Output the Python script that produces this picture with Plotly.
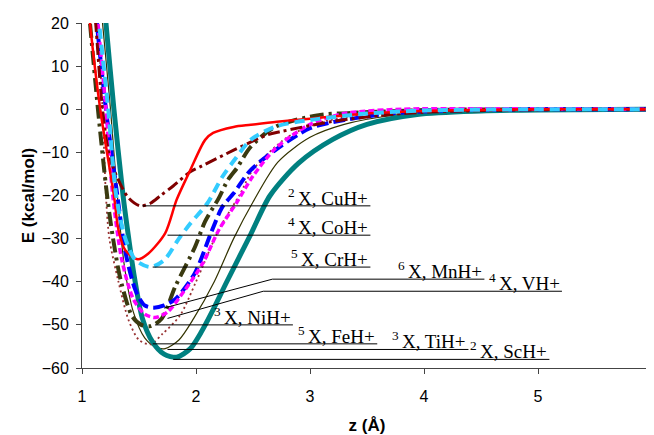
import plotly.graph_objects as go

# ---------------- data ----------------
# 2X ScH+  (teal, thick solid)
sc_z = [1.19, 1.21, 1.28, 1.36, 1.41, 1.46, 1.53, 1.62, 1.72, 1.83, 1.95, 2.05, 2.15, 2.27, 2.48, 2.65, 2.9, 3.2, 3.5, 3.94, 4.5, 5.0, 6.0]
sc_E = [26, 20, 0, -20, -30, -39, -48.5, -54, -56.8, -57.5, -55.5, -51.5, -46.5, -40, -29, -20, -12.5, -7, -3.5, -1.2, -0.4, -0.15, 0]

# 3X TiH+  (thin dark olive solid)
ti_z = [1.16, 1.18, 1.25, 1.31, 1.37, 1.45, 1.55, 1.65, 1.73, 1.85, 1.98, 2.16, 2.33, 2.5, 2.72, 3.0, 3.3, 3.7, 4.2, 5.0, 6.0]
ti_E = [26, 20, 0, -20, -36, -47, -53, -55.2, -55.5, -53.5, -48.5, -40, -30, -21.5, -12.2, -6.5, -3.5, -1.5, -0.5, -0.1, 0]

# 5X FeH+  (thin brown dotted)
fe_z = [1.12, 1.14, 1.18, 1.21, 1.24, 1.32, 1.41, 1.5, 1.6, 1.71, 1.86, 2.0, 2.2, 2.39, 2.5, 2.8, 3.1, 3.5, 4.0, 5.0, 6.0]
fe_E = [26, 20, 0, -20, -30, -40, -49, -53.5, -54.5, -52, -47.8, -40, -28, -19.5, -14, -6.5, -3, -1.2, -0.4, -0.1, 0]

# 3X NiH+  (dark olive long dash-dot)
ni_z = [1.05, 1.07, 1.14, 1.22, 1.27, 1.34, 1.44, 1.52, 1.6, 1.7, 1.82, 1.99, 2.08, 2.2, 2.28, 2.36, 2.48, 2.7, 3.09, 3.33, 4.0, 5.0, 6.0]
ni_E = [26, 20, 0, -20, -29.6, -39.7, -48, -50, -50.3, -48.5, -41, -32, -26, -20.6, -16.4, -13.6, -8.7, -4, -1.3, -0.9, -0.2, 0, 0]

# 6X MnH+  (blue dashed)
mn_z = [1.11, 1.13, 1.21, 1.31, 1.38, 1.47, 1.55, 1.63, 1.72, 1.82, 1.99, 2.13, 2.23, 2.33, 2.48, 2.72, 3.0, 3.3, 3.7, 4.2, 5.0, 6.0]
mn_E = [26, 20, 0, -20, -33, -42, -45.5, -46, -45.5, -44, -38, -28.8, -22.7, -19.5, -14.1, -9, -4.4, -2.5, -1, -0.3, 0, 0]

# 4X VH+  (magenta short dashes)
v_z = [1.12, 1.14, 1.21, 1.27, 1.35, 1.45, 1.55, 1.64, 1.75, 1.9, 2.06, 2.2, 2.36, 2.5, 2.7, 3.0, 3.3, 3.8, 4.5, 6.0]
v_E = [26, 20, 0, -20, -35, -44, -47.5, -48.3, -47, -42, -35.7, -28, -21.5, -15.5, -9, -3.5, -1, 0, 0.1, 0]

# 2X CuH+  (maroon dash-dot)
cu_z = [1.10, 1.12, 1.18, 1.25, 1.4, 1.51, 1.6, 1.69, 1.8, 1.95, 2.04, 2.33, 2.62, 2.74, 3.18, 3.6, 4.0, 5.0, 6.0]
cu_E = [26, 20, 0, -11.7, -20.3, -22.4, -21.8, -20, -17.8, -14.5, -13.3, -9.5, -6, -5.2, -2.9, -1.5, -0.7, -0.1, 0]

# 4X CoH+  (red solid)
co_z = [1.05, 1.07, 1.16, 1.28, 1.32, 1.38, 1.49, 1.58, 1.73, 1.83, 1.95, 2.08, 2.15, 2.33, 2.48, 2.71, 3.0, 3.5, 4.0, 5.0, 6.0]
co_E = [26, 20, 0, -20, -28, -32.7, -34.8, -33.5, -28.7, -21, -14.1, -7.1, -5.5, -4.1, -3.6, -2.9, -2.2, -1, -0.4, 0, 0]

# 5X CrH+  (light blue dashed)
cr_z = [1.13, 1.15, 1.23, 1.3, 1.38, 1.47, 1.6, 1.72, 1.85, 1.95, 2.1, 2.23, 2.35, 2.48, 2.7, 3.0, 3.5, 4.0, 5.0, 6.0]
cr_E = [26, 20, 0, -20, -30, -35, -36.6, -35, -30, -26.5, -21.8, -15.7, -11.3, -7.1, -4, -2.5, -1, -0.3, 0, 0]

# labels: multiplicity, ion, leader-line start (z,E), elbow (z,E), end z
lab_mult = ["2", "4", "5", "6", "4", "3", "5", "3", "2"]
lab_ion = ["CuH+", "CoH+", "CrH+", "MnH+", "VH+", "NiH+", "FeH+", "TiH+", "ScH+"]
lab_z0 = [1.53, 1.75, 1.62, 1.72, 1.75, 1.64, 1.62, 1.75, 1.80]
lab_E0 = [-22.4, -29.2, -36.6, -46.1, -48.5, -50.0, -54.4, -55.7, -58.0]
lab_z1 = [1.53, 1.75, 1.62, 2.67, 2.59, 1.64, 1.62, 1.75, 1.80]
lab_E1 = [-22.4, -29.2, -36.6, -39.4, -42.2, -50.0, -54.4, -55.7, -58.0]
lab_z2 = [3.53, 3.53, 3.53, 4.53, 5.21, 2.85, 3.59, 4.39, 5.10]

x_ticks = [1, 2, 3, 4, 5, 6]
y_ticks = [20, 10, 0, -10, -20, -30, -40, -50, -60]

# ---------------- figure ----------------
fig = go.Figure()

def add(z, e, color, width, dash):
    fig.add_trace(go.Scatter(x=z, y=e, mode="lines",
                             line=dict(color=color, width=width, dash=dash, shape="spline", smoothing=0.8),
                             hoverinfo="skip", showlegend=False))

add(ti_z, ti_E, "#333300", 1.2, "solid")
add(fe_z, fe_E, "#993333", 1.8, "2px,3px")
add(sc_z, sc_E, "#008080", 5, "solid")
add(ni_z, ni_E, "#3a3a10", 4, "14px,5px,3px,5px")
add(mn_z, mn_E, "#0000FF", 4, "12px,5px")
add(v_z, v_E, "#FF00FF", 3.5, "6px,3px")
add(cu_z, cu_E, "#800000", 3, "12px,4px,3px,4px")
add(co_z, co_E, "#FF0000", 2.5, "solid")
add(cr_z, cr_E, "#33CCFF", 4, "10px,6px")

for m, ion, z0, e0, z1, e1, z2 in zip(lab_mult, lab_ion, lab_z0, lab_E0, lab_z1, lab_E1, lab_z2):
    fig.add_shape(type="line", xref="x", yref="y", x0=z0, y0=e0, x1=z1, y1=e1,
                  line=dict(color="black", width=1))
    fig.add_shape(type="line", xref="x", yref="y", x0=z1, y0=e1, x1=z2, y1=e1,
                  line=dict(color="black", width=1))
    fig.add_annotation(x=z2, y=e1, xref="x", yref="y", xanchor="right", yanchor="bottom",
                       text=f"<sup>{m} </sup>X, {ion}", showarrow=False, yshift=-5,
                       font=dict(family="Liberation Serif, Times New Roman, serif", size=19, color="black"))

# the page body has an 8px margin, so the figure is sized to fit the window
fig.update_layout(
    width=646, height=427,
    margin=dict(l=74, r=2, t=15, b=67),
    paper_bgcolor="white", plot_bgcolor="white",
    font=dict(family="Liberation Sans, Arial, sans-serif", color="black", size=16),
    showlegend=False,
)
fig.update_xaxes(range=[1, 6], tickvals=x_ticks, ticks="outside", ticklen=5, tickcolor="#444",
                 showline=True, linecolor="#444", linewidth=1, showgrid=False, zeroline=False,
                 ticklabelstandoff=9, automargin=False, ticklabeloverflow="allow",
                 title=dict(text="<b>z (Å)</b>", font=dict(size=17), standoff=14))
fig.update_yaxes(range=[-60, 20], tickvals=y_ticks, ticks="outside", ticklen=5, tickcolor="#444",
                 showline=True, linecolor="#444", linewidth=1, showgrid=False, zeroline=False,
                 ticklabelstandoff=4, automargin=False,
                 title=dict(text="<b>E (kcal/mol)</b>", font=dict(size=17), standoff=2))

fig.write_html("out.html")
